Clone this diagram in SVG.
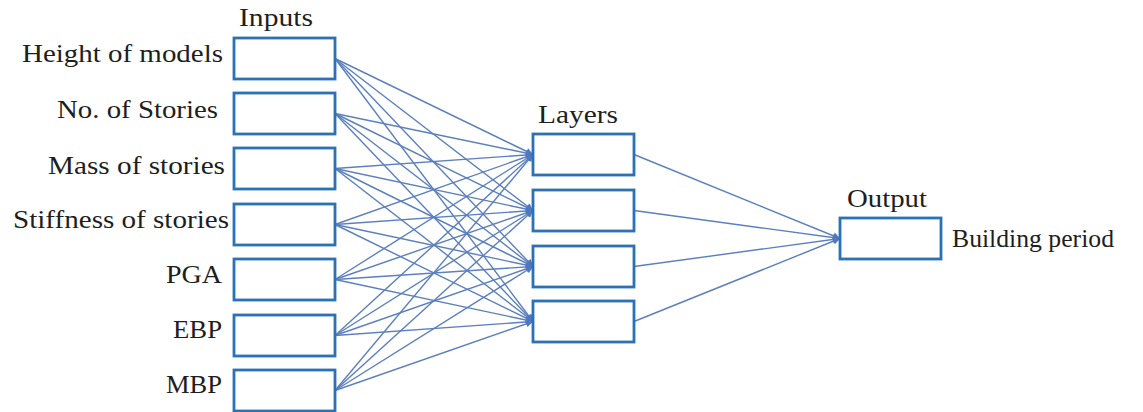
<svg xmlns="http://www.w3.org/2000/svg" width="1143" height="412" viewBox="0 0 1143 412">
<style>
.box{fill:#fff;stroke:#2a72b5;stroke-width:2.8}
.lbl{font-family:"Liberation Serif","Times New Roman",serif;font-size:25px;fill:#1e1e1e}
.c{stroke:#5b7fbf;stroke-width:1.4;fill:none;marker-end:url(#ah)}
</style>
<defs>
<marker id="ah" viewBox="0 0 10 10" refX="10" refY="5" markerWidth="9" markerHeight="7" markerUnits="userSpaceOnUse" orient="auto">
<path d="M0,0 L10,5 L0,10 z" fill="#4f78c0"/>
</marker>
</defs>
<rect width="1143" height="412" fill="#fff"/>
<g id="connectors">
<line class="c" x1="335" y1="58.5" x2="533" y2="154.5"/><line class="c" x1="335" y1="58.5" x2="533" y2="210.5"/><line class="c" x1="335" y1="58.5" x2="533" y2="266.5"/><line class="c" x1="335" y1="58.5" x2="533" y2="321.5"/>
<line class="c" x1="335" y1="113.5" x2="533" y2="154.5"/><line class="c" x1="335" y1="113.5" x2="533" y2="210.5"/><line class="c" x1="335" y1="113.5" x2="533" y2="266.5"/><line class="c" x1="335" y1="113.5" x2="533" y2="321.5"/>
<line class="c" x1="335" y1="168.5" x2="533" y2="154.5"/><line class="c" x1="335" y1="168.5" x2="533" y2="210.5"/><line class="c" x1="335" y1="168.5" x2="533" y2="266.5"/><line class="c" x1="335" y1="168.5" x2="533" y2="321.5"/>
<line class="c" x1="335" y1="224.5" x2="533" y2="154.5"/><line class="c" x1="335" y1="224.5" x2="533" y2="210.5"/><line class="c" x1="335" y1="224.5" x2="533" y2="266.5"/><line class="c" x1="335" y1="224.5" x2="533" y2="321.5"/>
<line class="c" x1="335" y1="279.5" x2="533" y2="154.5"/><line class="c" x1="335" y1="279.5" x2="533" y2="210.5"/><line class="c" x1="335" y1="279.5" x2="533" y2="266.5"/><line class="c" x1="335" y1="279.5" x2="533" y2="321.5"/>
<line class="c" x1="335" y1="335.5" x2="533" y2="154.5"/><line class="c" x1="335" y1="335.5" x2="533" y2="210.5"/><line class="c" x1="335" y1="335.5" x2="533" y2="266.5"/><line class="c" x1="335" y1="335.5" x2="533" y2="321.5"/>
<line class="c" x1="335" y1="390.5" x2="533" y2="154.5"/><line class="c" x1="335" y1="390.5" x2="533" y2="210.5"/><line class="c" x1="335" y1="390.5" x2="533" y2="266.5"/><line class="c" x1="335" y1="390.5" x2="533" y2="321.5"/>
<line class="c" x1="634" y1="154.5" x2="840" y2="238.5"/><line class="c" x1="634" y1="210.5" x2="840" y2="238.5"/><line class="c" x1="634" y1="266.5" x2="840" y2="238.5"/><line class="c" x1="634" y1="321.5" x2="840" y2="238.5"/>
</g>
<g id="in1"><rect class="box" x="234" y="38" width="101" height="41"/><text class="lbl" x="22" y="62" textLength="201" lengthAdjust="spacingAndGlyphs">Height of models</text></g>
<g id="in2"><rect class="box" x="234" y="93" width="101" height="41"/><text class="lbl" x="57" y="118" textLength="161" lengthAdjust="spacingAndGlyphs">No. of Stories</text></g>
<g id="in3"><rect class="box" x="234" y="148" width="101" height="41"/><text class="lbl" x="48" y="174" textLength="177" lengthAdjust="spacingAndGlyphs">Mass of stories</text></g>
<g id="in4"><rect class="box" x="234" y="204" width="101" height="41"/><text class="lbl" x="13" y="228" textLength="216" lengthAdjust="spacingAndGlyphs">Stiffness of stories</text></g>
<g id="in5"><rect class="box" x="234" y="259" width="101" height="41"/><text class="lbl" x="166" y="283" textLength="56" lengthAdjust="spacingAndGlyphs">PGA</text></g>
<g id="in6"><rect class="box" x="234" y="315" width="101" height="41"/><text class="lbl" x="173" y="338" textLength="49" lengthAdjust="spacingAndGlyphs">EBP</text></g>
<g id="in7"><rect class="box" x="234" y="370" width="101" height="41"/><text class="lbl" x="166" y="393" textLength="56" lengthAdjust="spacingAndGlyphs">MBP</text></g>
<g id="inputs-title"><text class="lbl" x="239" y="26" textLength="74" lengthAdjust="spacingAndGlyphs">Inputs</text></g>
<g id="layers-title"><text class="lbl" x="538" y="123" textLength="80" lengthAdjust="spacingAndGlyphs">Layers</text></g>
<g id="h1"><rect class="box" x="533" y="134" width="101" height="41"/></g>
<g id="h2"><rect class="box" x="533" y="190" width="101" height="41"/></g>
<g id="h3"><rect class="box" x="533" y="246" width="101" height="41"/></g>
<g id="h4"><rect class="box" x="533" y="301" width="101" height="41"/></g>
<g id="out"><rect class="box" x="840" y="218" width="101" height="41"/><text class="lbl" x="847" y="207" textLength="80" lengthAdjust="spacingAndGlyphs">Output</text><text class="lbl" x="952" y="247" textLength="162" lengthAdjust="spacingAndGlyphs">Building period</text></g>
</svg>
